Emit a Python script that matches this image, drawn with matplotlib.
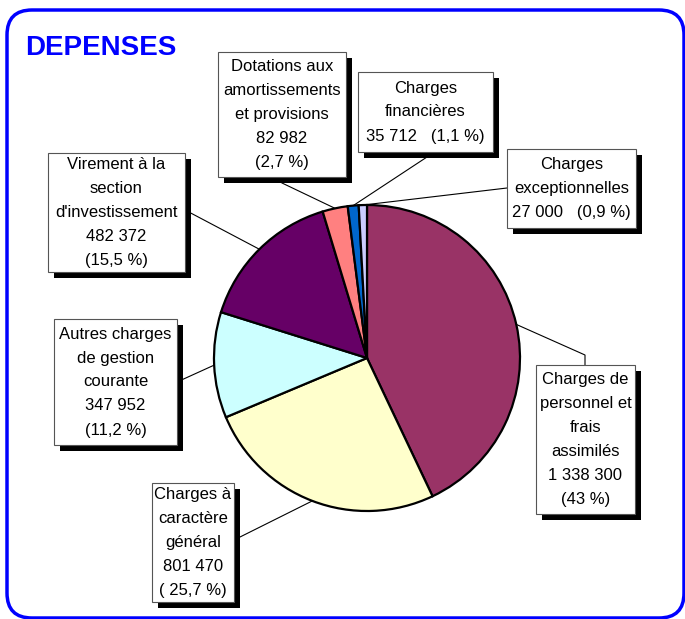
import numpy as np
import matplotlib.pyplot as plt
from matplotlib.patches import Rectangle, FancyBboxPatch

W, H = 685, 619

labels = ['Charges de\npersonnel et\nfrais\nassimilés\n1 338 300\n(43 %)',
          'Charges à\ncaractère\ngénéral\n801 470\n( 25,7 %)',
          'Autres charges\nde gestion\ncourante\n347 952\n(11,2 %)',
          'Virement à la\nsection\nd\'investissement\n482 372\n(15,5 %)',
          'Dotations aux\namortissements\net provisions\n82 982\n(2,7 %)',
          'Charges\nfinancières\n35 712   (1,1 %)',
          'Charges\nexceptionnelles\n27 000   (0,9 %)']
values = [1338300, 801470, 347952, 482372, 82982, 35712, 27000]
colors = ['#993366', '#FFFFCC', '#CCFFFF', '#660066', '#FF8080', '#0066CC', '#CCCCFF']

# box layout in pixels: left, top, width, height
boxes = [(536, 365, 99, 149), (152, 483, 82, 119), (54, 319, 123, 126),
         (48, 153, 137, 119), (218, 52, 128, 125), (358, 72, 135, 80),
         (507, 149, 129, 79)]
# where each leader line leaves its box (pixels)
anchors = [[(585, 365), (585, 355)], [(234, 540)], [(177, 382)], [(185, 210)],
           [(282, 183)], [(427, 157)], [(507, 188)]]

CX, CY, R = 367, 358, 153

plt.rcParams['font.family'] = ['Liberation Sans', 'DejaVu Sans']

fig = plt.figure(figsize=(W / 100, H / 100), dpi=100)
ax = fig.add_axes([0, 0, 1, 1])


def py(y):
    return H - y


wedges, _ = ax.pie(values, colors=colors, startangle=90, counterclock=False,
                   center=(CX, py(CY)), radius=R,
                   wedgeprops=dict(edgecolor='black', linewidth=1.6))

for w, box, anc, lab in zip(wedges, boxes, anchors, labels):
    a = np.deg2rad((w.theta1 + w.theta2) / 2)
    ex, ey = CX + R * np.cos(a), py(CY) + R * np.sin(a)
    xs = [p[0] for p in anc] + [ex]
    ys = [py(p[1]) for p in anc] + [ey]
    ax.plot(xs, ys, color='black', lw=0.8, zorder=1)

    l, t, bw, bh = box
    ax.add_patch(Rectangle((l + 6, py(t + bh + 6)), bw, bh, facecolor='black',
                           edgecolor='none', zorder=3))
    ax.add_patch(Rectangle((l, py(t + bh)), bw, bh, facecolor='white',
                           edgecolor='#555555', lw=0.8, zorder=4))
    ax.text(l + bw / 2, py(t + bh / 2), lab, ha='center', va='center',
            fontsize=12, linespacing=1.75, zorder=5)

ax.add_patch(FancyBboxPatch((7, py(618)), 677, 608,
                            boxstyle='round,pad=0,rounding_size=25',
                            facecolor='none', edgecolor='#0000FF', lw=2.5,
                            zorder=6))
ax.text(25, py(55), 'DEPENSES', fontsize=20, fontweight='bold',
        color='#0000FF', va='baseline', ha='left')

ax.set_xlim(0, W)
ax.set_ylim(0, H)
ax.set_aspect('auto')
ax.axis('off')

plt.savefig('out.png', dpi=100)
